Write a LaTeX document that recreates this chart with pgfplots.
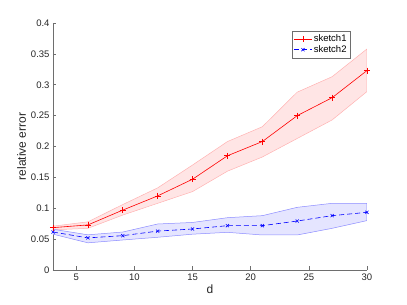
\documentclass[border=0pt]{standalone}
\usepackage{pgfplots}
\pgfplotsset{compat=1.18}
\usepackage{fontspec}
\setmainfont{Liberation Sans}
\definecolor{axgray}{RGB}{110,110,110}
\definecolor{mred}{RGB}{255,0,0}
\definecolor{mblue}{RGB}{0,0,255}
\begin{document}
\begin{tikzpicture}
\begin{axis}[
  at={(0,0)}, anchor=south west,
  scale only axis, width=314pt, height=247pt,
  xmin=3, xmax=30, ymin=0, ymax=0.4,
  xtick={5,10,15,20,25,30},
  ytick={0,0.05,0.1,0.15,0.2,0.25,0.3,0.35,0.4},
  yticklabels={0,0.05,0.1,0.15,0.2,0.25,0.3,0.35,0.4},
  axis x line*=bottom, axis y line*=left,
  axis line style={axgray, line width=0.6pt, -},
  tick style={axgray, line width=0.5pt},
  tick align=inside, major tick length=3.5pt,
  ticklabel style={font=\fontsize{9.5}{11}\selectfont, text=black!85},
  /pgf/number format/assume math mode=true,
  xlabel={d}, ylabel={relative error},
  label style={font=\fontsize{12}{14}\selectfont, text=black!85},
  xlabel style={yshift=2pt},
  ylabel style={yshift=-2pt},
  legend style={at={(0.761,0.968)}, anchor=north west, draw=axgray, fill=white,
    font=\fontsize{9.5}{11}\selectfont, row sep=-2pt, inner sep=2pt},
  legend cell align=left,
]
% red band (upper forward, lower backward)
\addplot[fill=red!10, draw=red!30, line width=0.5pt, forget plot] coordinates {
(3,0.071)(6,0.078)(9,0.106)(12,0.133)(15,0.170)(18,0.208)(21,0.232)(24,0.288)(27,0.313)(30,0.358)
(30,0.289)(27,0.243)(24,0.213)(21,0.183)(18,0.160)(15,0.127)(12,0.108)(9,0.089)(6,0.0675)(3,0.065)} --cycle;
% blue band
\addplot[fill=mblue!10, draw=mblue!45, line width=0.5pt, forget plot] coordinates {
(3,0.066)(6,0.057)(9,0.0615)(12,0.0745)(15,0.077)(18,0.0847)(21,0.088)(24,0.1015)(27,0.108)(30,0.108)
(30,0.080)(27,0.0675)(24,0.0567)(21,0.0567)(18,0.061)(15,0.058)(12,0.053)(9,0.0486)(6,0.044)(3,0.058)} --cycle;
% means
\addplot[mred, line width=0.6pt, mark=+, mark size=3pt] coordinates {
(3,0.0686)(6,0.073)(9,0.097)(12,0.120)(15,0.147)(18,0.185)(21,0.208)(24,0.250)(27,0.279)(30,0.323)};
\addlegendentry{sketch1}
\addplot[mblue, line width=0.6pt, dash pattern=on 5pt off 3pt, mark=x, mark size=2.2pt, mark options={solid}] coordinates {
(3,0.0615)(6,0.052)(9,0.0556)(12,0.063)(15,0.0664)(18,0.0718)(21,0.0718)(24,0.0793)(27,0.088)(30,0.0934)};
\addlegendentry{sketch2}
\end{axis}
\pgfresetboundingbox
\path[use as bounding box] (-53pt,-35pt) rectangle (354pt,270pt);
\end{tikzpicture}
\end{document}
